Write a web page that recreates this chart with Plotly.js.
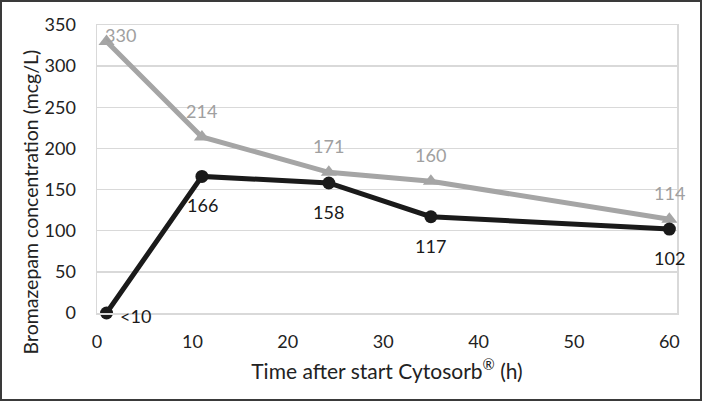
<!DOCTYPE html>
<html><head><meta charset="utf-8">
<script src="https://cdn.plot.ly/plotly-3.0.1.min.js"></script>
<style>
html,body{margin:0;padding:0;background:#fff;}
#wrap{width:702px;height:401px;position:relative;}
#chart{position:absolute;left:0;top:0;width:702px;height:401px;}
#frame{position:absolute;left:0;top:0;width:702px;height:401px;box-sizing:border-box;border:2px solid #3a3a3a;pointer-events:none;z-index:10;}
</style></head>
<body><div id="wrap"><div id="chart"></div><div id="frame"></div></div>
<script>
const timeH = [1, 11, 24.3, 35, 60];
const seriesGray = [330, 214, 171, 160, 114];
const seriesBlack = [0, 166, 158, 117, 102];
const grayLabels = ['330', '214', '171', '160', '114'];
const blackLabels = ['<10', '166', '158', '117', '102'];
const xTicks = [0, 10, 20, 30, 40, 50, 60];
const yTicks = [0, 50, 100, 150, 200, 250, 300, 350];
const xTitle = 'Time after start Cytosorb<sup>®</sup> (h)';
const yTitle = 'Bromazepam concentration (mcg/L)';

const FONT = 'Lato, "Open Sans", sans-serif';
const GRAY = '#a5a5a5';
const GRAYTXT = '#a0a0a0';
const BLACK = '#1a1a1a';
const TXT = '#222';

const traces = [
  {x: timeH, y: seriesGray, mode: 'lines+markers', type: 'scatter',
   line: {color: GRAY, width: 5}, marker: {symbol: 'triangle-up', size: 14, color: GRAY},
   hoverinfo: 'skip', cliponaxis: false},
  {x: timeH, y: seriesBlack, mode: 'lines+markers', type: 'scatter',
   line: {color: BLACK, width: 5}, marker: {symbol: 'circle', size: 13, color: BLACK},
   hoverinfo: 'skip', cliponaxis: false}
];

const annotations = [];
timeH.forEach((t, i) => {
  annotations.push({x: t, y: seriesGray[i], text: grayLabels[i], showarrow: false,
    xshift: i === 0 ? 14 : 0, yshift: i === 0 ? 6 : 26,
    font: {family: FONT, size: 18, color: GRAYTXT}});
  annotations.push({x: t, y: seriesBlack[i], text: blackLabels[i], showarrow: false,
    xshift: i === 0 ? 29 : (i === 1 ? 1 : 0), yshift: i === 0 ? -3 : -29,
    font: {family: FONT, size: 18, color: BLACK}});
});
annotations.push({xref: 'paper', yref: 'paper', x: -0.115, y: 0.385, text: yTitle,
  textangle: -90, showarrow: false, xanchor: 'center', yanchor: 'middle',
  font: {family: FONT, size: 19.5, color: TXT}});

const layout = {
  width: 702, height: 401,
  margin: {l: 97, r: 25, t: 25, b: 88},
  paper_bgcolor: '#fff', plot_bgcolor: '#fff',
  showlegend: false,
  font: {family: FONT, size: 18, color: TXT},
  xaxis: {range: [0, 60.8], tickvals: xTicks, ticktext: xTicks.map(String),
    showgrid: false, zeroline: false, showline: true, linecolor: '#d9d9d9', linewidth: 1.5,
    mirror: true, ticks: '', ticklabelstandoff: 12,
    tickfont: {family: FONT, size: 18, color: TXT},
    title: {text: xTitle, standoff: 13,
      font: {family: FONT, size: 21, color: TXT}}},
  yaxis: {range: [0, 350], tickvals: yTicks, ticktext: yTicks.map(String),
    showgrid: true, gridcolor: '#d9d9d9', gridwidth: 1.5, zeroline: false,
    showline: true, linecolor: '#d9d9d9', linewidth: 1.5, mirror: true, ticks: '',
    ticklabelstandoff: 16,
    tickfont: {family: FONT, size: 18, color: TXT}},
  annotations: annotations
};

Plotly.newPlot('chart', traces, layout, {displayModeBar: false, staticPlot: true});
</script></body></html>
